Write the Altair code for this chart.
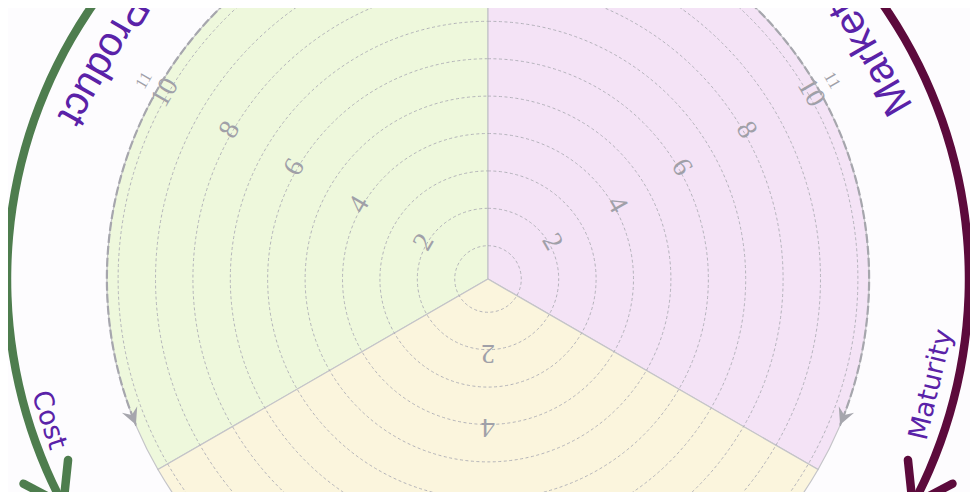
import math
import altair as alt
import pandas as pd

# ---------------- data ----------------
sector_keys = ["Product", "Market", "Lower"]
sector_from = [240, 0, 120]          # degrees, clockwise from north
sector_to = [360, 120, 240]
sector_extent = [10.3, 10.3, 10.3]   # radial value of the outer rim
sector_fill = ["#eef8dc", "#f4e3f6", "#fbf5dd"]

ring_values = [1, 2, 3, 4, 5, 6, 7, 8, 9, 10]

tick_labels = ["2", "4", "6", "8", "10", "11"]
tick_values = [2, 4, 6, 8, 10, 10.65]
tick_axes_deg = [300, 60, 180]

guide_from = [358, 2]
guide_to = [247.5, 112.5]
guide_dir = [-1, 1]
guide_r = 10.3

arrow_keys = ["Product", "Market"]
arrow_from = [357, 3]
arrow_to = [242, 118]
arrow_dir = [-1, 1]
arrow_r = 12.97
arrow_color = ["#4e7d4e", "#5c0a3c"]

title_names = ["Product", "Market"]
title_deg = [299.5, 60]
title_r = [11.95, 11.95]

sub_names = ["Cost", "Maturity"]
sub_deg = [252.2, 103.4]
sub_r = [12.45, 12.3]

# ---------------- layout ----------------
W, H = 962, 484
CX, CY = 488, 279          # centre of the dial (page pixels)
K, R0 = 37.4, 0.11         # px per radial unit, radial offset
RMAX = 13.5

xs = alt.Scale(domain=[8, 8 + W], range=[0, W], nice=False, zero=False)
ys = alt.Scale(domain=[8, 8 + H], range=[0, H], nice=False, zero=False)
ts = alt.Scale(domain=[0, 360], range=[0, 2 * math.pi], nice=False, zero=False)
rs = alt.Scale(type="linear", domain=[R0, RMAX], range=[0, (RMAX - R0) * K],
               nice=False, zero=False)

TEXT_PURPLE = "#5a22a8"
GREY = "#a6a6ad"


def centre(ch):
    return ch.transform_calculate(cx=str(CX), cy=str(CY))


def polar_xy(ch, a="a", r="r"):
    return ch.transform_calculate(
        px=f"{CX} + (datum.{r} - {R0}) * {K} * sin(datum.{a} * PI / 180)",
        py=f"{CY} - (datum.{r} - {R0}) * {K} * cos(datum.{a} * PI / 180)",
    )


def arc_enc(t0="t0", t1="t1", r="r", r2=None):
    enc = dict(
        x=alt.X("cx:Q", scale=xs, axis=None),
        y=alt.Y("cy:Q", scale=ys, axis=None),
        theta=alt.Theta(f"{t0}:Q", scale=ts, stack=None),
        theta2=alt.Theta2(f"{t1}:Q"),
        radius=alt.Radius(f"{r}:Q", scale=rs),
    )
    if r2:
        enc["radius2"] = alt.Radius2(f"{r2}:Q")
    return enc


# sectors
sec_df = pd.DataFrame({"k": sector_keys, "t0": sector_from, "t1": sector_to,
                       "r": sector_extent})
sectors = centre(alt.Chart(sec_df)).mark_arc(
    stroke="#c4c4c8", strokeWidth=1.2
).encode(
    **arc_enc(),
    color=alt.Color("k:N", scale=alt.Scale(domain=sector_keys, range=sector_fill),
                    legend=None),
)

# dashed rings
ring_df = pd.DataFrame({"r": ring_values, "t0": 0, "t1": 360})
rings = centre(alt.Chart(ring_df)).mark_arc(
    fillOpacity=0, stroke="#adadb4", strokeWidth=0.9, strokeDash=[3, 2.5]
).encode(**arc_enc())

# tick labels
tick_rows = []
for a in tick_axes_deg:
    for lab, v in zip(tick_labels, tick_values):
        tick_rows.append({"lab": lab, "v": v, "a": a})
tick_df = pd.DataFrame(tick_rows)
ticks = polar_xy(alt.Chart(tick_df).transform_calculate(r="datum.v + 0.08"),
                 a="a", r="r").transform_calculate(
    rot="datum.a",
    fs="datum.lab == '11' ? 17 : 28",
).mark_text(font="Liberation Serif", color="#a0a0a8", align="center",
            baseline="middle").encode(
    x=alt.X("px:Q", scale=xs, axis=None),
    y=alt.Y("py:Q", scale=ys, axis=None),
    text="lab:N",
    angle=alt.Angle("rot:Q", scale=None),
    size=alt.Size("fs:Q", scale=None),
)

# grey dashed guide arcs (drawn as open arcs via a dash pattern)
guide_len = (guide_r - R0) * K * math.radians(abs(guide_to[0] - guide_from[0]))
n = int(guide_len // 12)
guide_dash = [9, 3] * n + [max(guide_len - 12 * n, 0.1), 6000]
guide_df = pd.DataFrame({"t0": guide_from, "t1": guide_to, "r": guide_r})
guides = centre(alt.Chart(guide_df)).mark_arc(
    fillOpacity=0, stroke=GREY, strokeWidth=2.2, strokeDash=guide_dash
).encode(**arc_enc())

ghead_df = pd.DataFrame({"a": guide_to, "d": guide_dir, "r": guide_r})
gheads = polar_xy(alt.Chart(ghead_df)).transform_calculate(
    rot="datum.a - datum.d * 90"
).mark_point(
    shape="M0,0L-0.5,-1L0,-0.65L0.5,-1Z", size=1100, filled=True,
    color=GREY, opacity=1, strokeWidth=1, strokeJoin="round"
).encode(
    x=alt.X("px:Q", scale=xs, axis=None),
    y=alt.Y("py:Q", scale=ys, axis=None),
    angle=alt.Angle("rot:Q", scale=None),
)

# big coloured arrows
band = 4.2 / K
arr_df = pd.DataFrame({"k": arrow_keys, "t0": arrow_from,
                       "t1": [t + 1.0 * d for t, d in zip(arrow_to, [1, -1])],
                       "ri": arrow_r - band, "ro": arrow_r + band})
shafts = centre(alt.Chart(arr_df)).mark_arc(stroke=None).encode(
    **arc_enc(r="ro", r2="ri"),
    color=alt.Color("k:N", scale=alt.Scale(domain=arrow_keys, range=arrow_color),
                    legend=None),
)

ahead_df = pd.DataFrame({"k": arrow_keys, "a": arrow_to, "d": arrow_dir,
                         "r": arrow_r})
aheads = polar_xy(alt.Chart(ahead_df)).transform_calculate(
    rot="datum.a - datum.d * 90"
).mark_point(
    shape="M-0.56,-0.83L0,0L0.56,-0.83", size=8100, filled=False,
    strokeWidth=8.5, strokeCap="round", strokeJoin="round", opacity=1
).encode(
    x=alt.X("px:Q", scale=xs, axis=None),
    y=alt.Y("py:Q", scale=ys, axis=None),
    angle=alt.Angle("rot:Q", scale=None),
    color=alt.Color("k:N", scale=alt.Scale(domain=arrow_keys, range=arrow_color),
                    legend=None),
)

# titles along the arrows
title_df = pd.DataFrame({"t": title_names, "a": title_deg, "r": title_r})
titles = polar_xy(alt.Chart(title_df)).transform_calculate(
    rot="datum.a + 180"
).mark_text(font="Liberation Sans", fontSize=41, color=TEXT_PURPLE,
            align="center", baseline="middle").encode(
    x=alt.X("px:Q", scale=xs, axis=None),
    y=alt.Y("py:Q", scale=ys, axis=None),
    text="t:N",
    angle=alt.Angle("rot:Q", scale=None),
)

sub_df = pd.DataFrame({"t": sub_names, "a": sub_deg, "r": sub_r})
subs = polar_xy(alt.Chart(sub_df)).transform_calculate(
    rot="datum.a + 180"
).mark_text(font="DejaVu Sans", fontSize=27, color=TEXT_PURPLE,
            align="center", baseline="middle").encode(
    x=alt.X("px:Q", scale=xs, axis=None),
    y=alt.Y("py:Q", scale=ys, axis=None),
    text="t:N",
    angle=alt.Angle("rot:Q", scale=None),
)

chart = alt.layer(
    sectors, rings, ticks, guides, gheads, shafts, aheads, titles, subs
).resolve_scale(color="independent").properties(
    width=W, height=H,
    autosize=alt.AutoSizeParams(type="none"),
    padding=0,
    background="#fdfcfe",
).configure_view(strokeWidth=0)

chart.save("out.html", embed_options={"renderer": "svg", "actions": False})
